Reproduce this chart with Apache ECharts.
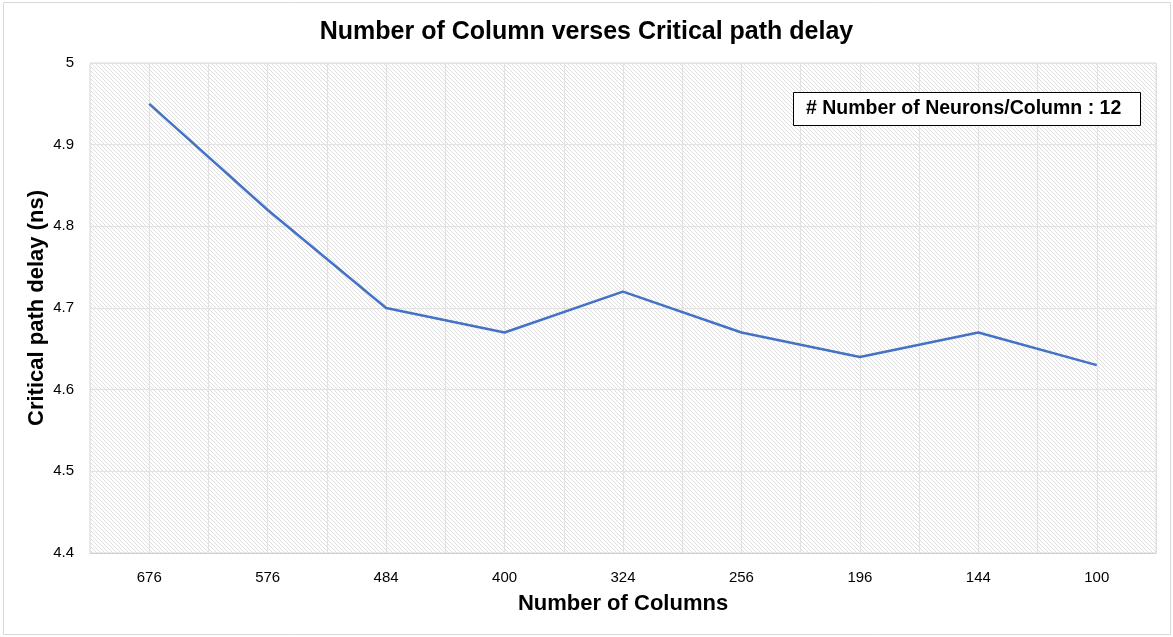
<!DOCTYPE html>
<html>
<head>
<meta charset="utf-8">
<script src="https://cdn.jsdelivr.net/npm/echarts@6/dist/echarts.min.js"></script>
<style>
html,body{margin:0;padding:0;background:#fff;}
#main{width:1173px;height:637px;}
</style>
</head>
<body>
<div id="main"></div>
<script>
// data
var columns=['676','576','484','400','324','256','196','144','100'];
var delays=[4.95,4.82,4.70,4.67,4.72,4.67,4.64,4.67,4.63];
var yTicks=[4.4,4.5,4.6,4.7,4.8,4.9,5];

// hatched fill for the plot area
var tile=document.createElement('canvas');
tile.width=4;tile.height=4;
var c=tile.getContext('2d');
c.fillStyle='#fff';c.fillRect(0,0,4,4);
c.strokeStyle='#dedede';c.lineWidth=1;
c.beginPath();
c.moveTo(-1,-1);c.lineTo(5,5);
c.moveTo(-1,3);c.lineTo(1,5);
c.moveTo(3,-1);c.lineTo(5,1);
c.stroke();

var myChart=echarts.init(document.getElementById('main'));
var option={
    backgroundColor:'#fff',
    graphic:[{
        type:'rect',
        shape:{x:3.5,y:2.5,width:1167,height:632},
        style:{fill:'none',stroke:'#d9d9d9',lineWidth:1},
        silent:true
    }],
    title:[{
        text:'Number of Column verses Critical path delay',
        left:'center',top:15,
        textStyle:{fontFamily:'Liberation Sans',fontWeight:'bold',fontSize:25,color:'#000'}
    },{
        text:'# Number of Neurons/Column : 12',
        left:793,top:92,
        padding:[7,19,7,13],
        borderColor:'#000',borderWidth:1,backgroundColor:'#fff',
        textStyle:{fontFamily:'Liberation Sans',fontWeight:'bold',fontSize:19.5,color:'#000'}
    }],
    grid:{
        left:90,right:17,top:63,bottom:84,
        show:true,
        backgroundColor:{image:tile,repeat:'repeat'},
        borderColor:'#dcdcdc',borderWidth:1
    },
    xAxis:[{
        type:'category',
        data:columns,
        boundaryGap:true,
        name:'Number of Columns',
        nameLocation:'middle',
        nameGap:40,
        nameTextStyle:{fontFamily:'Liberation Sans',fontWeight:'bold',fontSize:22,color:'#000'},
        axisLine:{lineStyle:{color:'#d0d0d0'}},
        axisTick:{show:false},
        axisLabel:{fontFamily:'Liberation Sans',fontSize:15,color:'#000',margin:17},
        splitLine:{show:false}
    },{
        // only here to draw the half-band vertical grid lines
        type:'value',
        min:0,max:18,interval:1,
        show:true,
        axisLine:{show:false},axisTick:{show:false},axisLabel:{show:false},
        splitLine:{show:true,lineStyle:{color:'#e2e2e2',width:1}}
    }],
    yAxis:{
        type:'value',
        min:yTicks[0],max:yTicks[yTicks.length-1],interval:0.1,
        name:'Critical path delay (ns)',
        nameLocation:'middle',
        nameGap:42,
        nameMoveOverlap:false,
        nameTextStyle:{fontFamily:'Liberation Sans',fontWeight:'bold',fontSize:22,color:'#000'},
        axisLine:{show:false},
        axisTick:{show:false},
        axisLabel:{fontFamily:'Liberation Sans',fontSize:15,color:'#000',margin:16,
            formatter:function(v){return String(Math.round(v*10)/10);}},
        splitLine:{lineStyle:{color:'#e2e2e2',width:1}}
    },
    series:[{
        type:'line',
        xAxisIndex:0,
        data:delays,
        symbol:'none',
        lineStyle:{color:'#4472c4',width:2.5},
        animation:false
    }]
};
myChart.setOption(option);
</script>
</body>
</html>
